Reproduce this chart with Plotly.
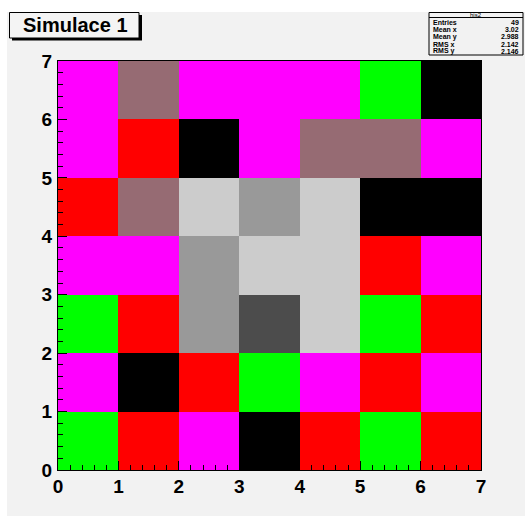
import plotly.graph_objects as go

# ---- data ----
palette_names = ["magenta", "red", "green", "black", "mauve", "lightgray", "gray", "darkgray"]
palette_colors = ["#ff00ff", "#ff0000", "#00ff00", "#000000", "#966b73", "#cccccc", "#999999", "#4c4c4c"]

x_centers = [0.5, 1.5, 2.5, 3.5, 4.5, 5.5, 6.5]
y_centers = [0.5, 1.5, 2.5, 3.5, 4.5, 5.5, 6.5]

# rows from y=0 (bottom) to y=6 (top); values are colour categories
row0 = ["green", "red", "magenta", "black", "red", "green", "red"]
row1 = ["magenta", "black", "red", "green", "magenta", "red", "magenta"]
row2 = ["green", "red", "gray", "darkgray", "lightgray", "green", "red"]
row3 = ["magenta", "magenta", "gray", "lightgray", "lightgray", "red", "magenta"]
row4 = ["red", "mauve", "lightgray", "gray", "lightgray", "black", "black"]
row5 = ["magenta", "red", "black", "magenta", "mauve", "mauve", "magenta"]
row6 = ["magenta", "mauve", "magenta", "magenta", "magenta", "green", "black"]
rows = [row0, row1, row2, row3, row4, row5, row6]

tick_vals = [0, 1, 2, 3, 4, 5, 6, 7]
tick_text = ["0", "1", "2", "3", "4", "5", "6", "7"]

title_text = "Simulace 1"
stats_name = "his2"
stats_labels = ["Entries", "Mean x", "Mean y", "RMS x", "RMS y"]
stats_values = ["49", "3.02", "2.988", "2.142", "2.146"]

# ---- build ----
W, H = 525, 516
L, R, T, B = 58, 481, 61, 470

def fx(px):
    return (px - L) / (R - L)

def fy(py):
    return (B - py) / (B - T)

n = len(palette_names)
z = [[palette_names.index(c) for c in r] for r in rows]
colorscale = []
for i, c in enumerate(palette_colors):
    colorscale.append([i / n, c])
    colorscale.append([(i + 1) / n, c])

fig = go.Figure(go.Heatmap(
    x=x_centers, y=y_centers, z=z,
    zmin=-0.5, zmax=n - 0.5,
    colorscale=colorscale, showscale=False, hoverinfo="skip",
))

font_b = dict(family="Liberation Sans, Arial, sans-serif", size=19, color="black", weight="bold")

axis_common = dict(
    range=[0, 7], tickvals=tick_vals, ticktext=tick_text,
    ticks="inside", ticklen=9, tickcolor="black", tickwidth=1,
    minor=dict(dtick=0.2, ticks="inside", ticklen=5, tickcolor="black", tickwidth=1),
    showline=True, linecolor="black", linewidth=1, mirror=True,
    showgrid=False, zeroline=False, tickfont=font_b, fixedrange=True,
)
fig.update_xaxes(**axis_common, ticklabelstandoff=-1)
fig.update_yaxes(**axis_common, ticklabelstandoff=1)

shapes = []
# canvas background
shapes.append(dict(type="rect", xref="paper", yref="paper",
                   x0=fx(7), x1=fx(530), y0=fy(520), y1=fy(12),
                   fillcolor="#f2f2f2", line=dict(width=0), layer="below"))
# title box shadow + box
shapes.append(dict(type="rect", xref="paper", yref="paper",
                   x0=fx(12), x1=fx(142), y0=fy(40.5), y1=fy(15),
                   fillcolor="black", line=dict(width=0)))
shapes.append(dict(type="rect", xref="paper", yref="paper",
                   x0=fx(9.5), x1=fx(139), y0=fy(38), y1=fy(12.5),
                   fillcolor="#f4f4f4", line=dict(color="black", width=1)))
# stats box
shapes.append(dict(type="rect", xref="paper", yref="paper",
                   x0=fx(429), x1=fx(523), y0=fy(55), y1=fy(12.5),
                   fillcolor="#f2f2f2", line=dict(color="black", width=1)))
shapes.append(dict(type="line", xref="paper", yref="paper",
                   x0=fx(429), x1=fx(523), y0=fy(17.5), y1=fy(17.5),
                   line=dict(color="black", width=1)))

annotations = [
    dict(text=title_text, xref="paper", yref="paper", x=fx(75), y=fy(25.5),
         xanchor="center", yanchor="middle", showarrow=False,
         font=dict(family="Liberation Sans, Arial, sans-serif", size=20, color="black", weight="bold")),
    dict(text=stats_name, xref="paper", yref="paper", x=fx(476), y=fy(15),
         xanchor="center", yanchor="middle", showarrow=False,
         font=dict(family="Liberation Sans, Arial, sans-serif", size=6, color="black")),
]
row_y = [22.7, 29.5, 36.8, 44.3, 51.5]
sfont = dict(family="Liberation Sans, Arial, sans-serif", size=7, color="black", weight="bold")
for lab, val, yy in zip(stats_labels, stats_values, row_y):
    annotations.append(dict(text=lab, xref="paper", yref="paper", x=fx(431), y=fy(yy),
                            xanchor="left", yanchor="middle", showarrow=False, font=sfont))
    annotations.append(dict(text=val, xref="paper", yref="paper", x=fx(521), y=fy(yy),
                            xanchor="right", yanchor="middle", showarrow=False, font=sfont))

fig.update_layout(
    width=W, height=H,
    margin=dict(l=L, r=W - R, t=T, b=H - B, pad=0),
    paper_bgcolor="white", plot_bgcolor="#f2f2f2",
    shapes=shapes, annotations=annotations,
    showlegend=False,
)

fig.write_html("out.html")
